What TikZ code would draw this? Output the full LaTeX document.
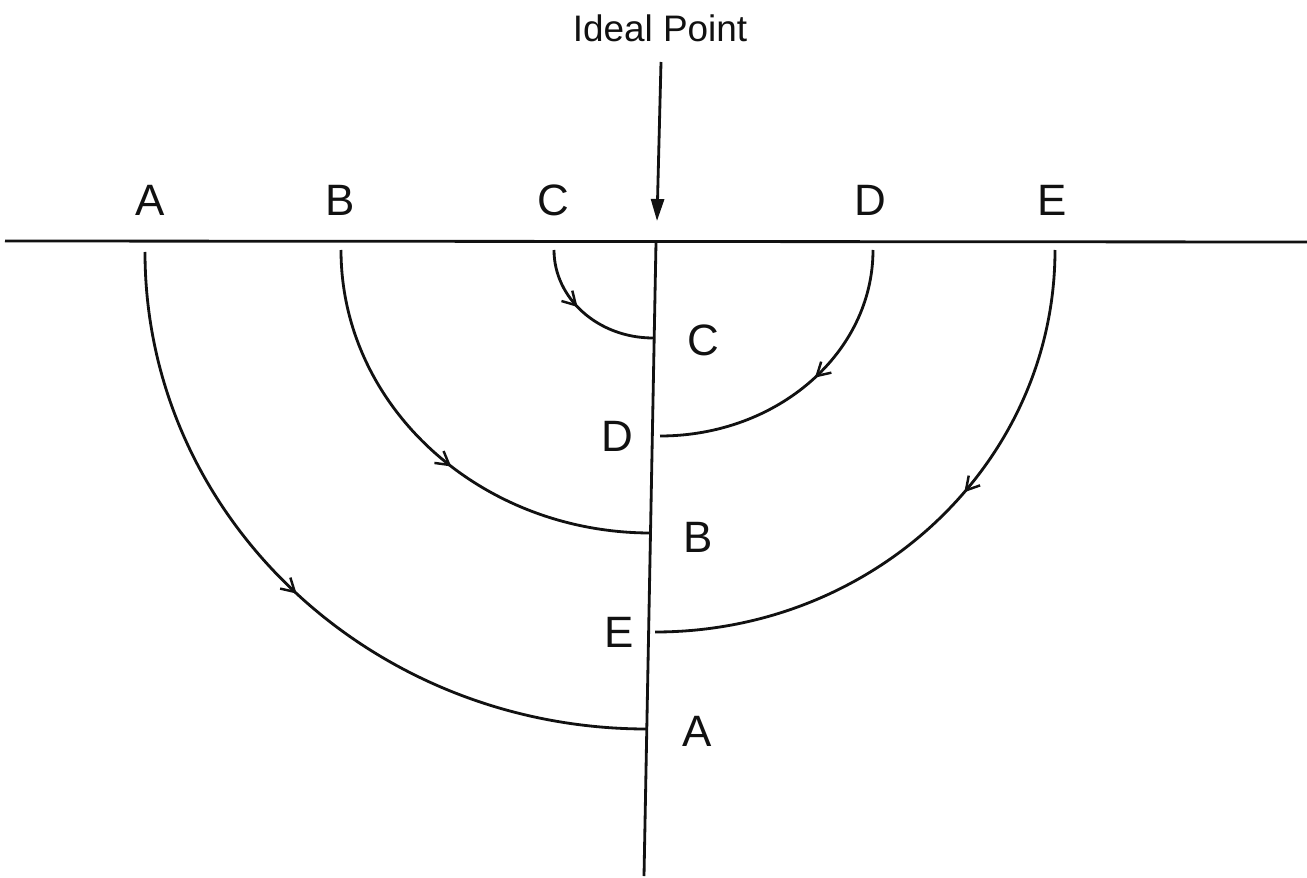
\documentclass[tikz,border=0pt]{standalone}
\usepackage{fontspec}
\setsansfont{Liberation Sans}
\usetikzlibrary{arrows.meta,decorations.markings}
\definecolor{mapInk}{HTML}{111111}
\tikzset{
  every picture/.style={font=\sffamily, text=mapInk},
  map label/.style={font=\sffamily\fontsize{25}{28}\selectfont, inner sep=0pt},
  map title/.style={font=\sffamily\fontsize{21}{24}\selectfont, inner sep=0pt},
  map axis/.style={draw=mapInk, line width=1.6pt},
  map path/.style={draw=mapInk, line width=1.6pt, postaction={decorate},
    decoration={markings, mark=at position #1 with
      {\arrow{Straight Barb[length=2.6mm,width=3mm,line width=1.4pt]}}}},
  map arrow/.style={-{Triangle[length=4.4mm,width=2.6mm]},
    draw=mapInk, line width=1.6pt}
}
\begin{document}
\begin{tikzpicture}[x=0.02cm,y=-0.02cm]
  \useasboundingbox (0,0) rectangle (1307,878);
  % axes
  \coordinate (west) at (5,241);
  \coordinate (east) at (1307,242);
  \coordinate (top) at (656,242);
  \coordinate (bottom) at (644,876);
  \draw[map axis] (west) -- (east);
  \draw[map axis] (top) -- (bottom);
  \node[map title] (ideal) at (660,28) {Ideal Point};
  \coordinate (ideal tail) at (661,62);
  \coordinate (ideal tip) at (657,221);
  \draw[map arrow] (ideal tail) -- (ideal tip);
  % labels on the line
  \node[map label] (topA) at (150,200) {A};
  \node[map label] (topB) at (340,200) {B};
  \node[map label] (topC) at (553,200) {C};
  \node[map label] (topD) at (870,200) {D};
  \node[map label] (topE) at (1052,200) {E};
  % labels on the axis
  \node[map label] (sideC) at (703,340) {C};
  \node[map label] (sideD) at (617,436) {D};
  \node[map label] (sideB) at (698,537) {B};
  \node[map label] (sideE) at (619,632) {E};
  \node[map label] (sideA) at (697,731) {A};
  % paths
  \coordinate (a0) at (145,252);
  \coordinate (b0) at (341,250);
  \coordinate (c0) at (554,250);
  \coordinate (d0) at (873,250);
  \coordinate (e0) at (1055,250);
  \draw[map path=0.5]  (a0) arc[start angle=180, end angle=90, x radius=502, y radius=477] coordinate (a1);
  \draw[map path=0.54] (b0) arc[start angle=180, end angle=90, x radius=310, y radius=283] coordinate (b1);
  \draw[map path=0.43] (c0) arc[start angle=180, end angle=90, x radius=99, y radius=88] coordinate (c1);
  \draw[map path=0.46] (d0) arc[start angle=0, end angle=90, x radius=213, y radius=186] coordinate (d1);
  \draw[map path=0.43] (e0) arc[start angle=0, end angle=90, x radius=400, y radius=382] coordinate (e1);
\end{tikzpicture}
\end{document}
